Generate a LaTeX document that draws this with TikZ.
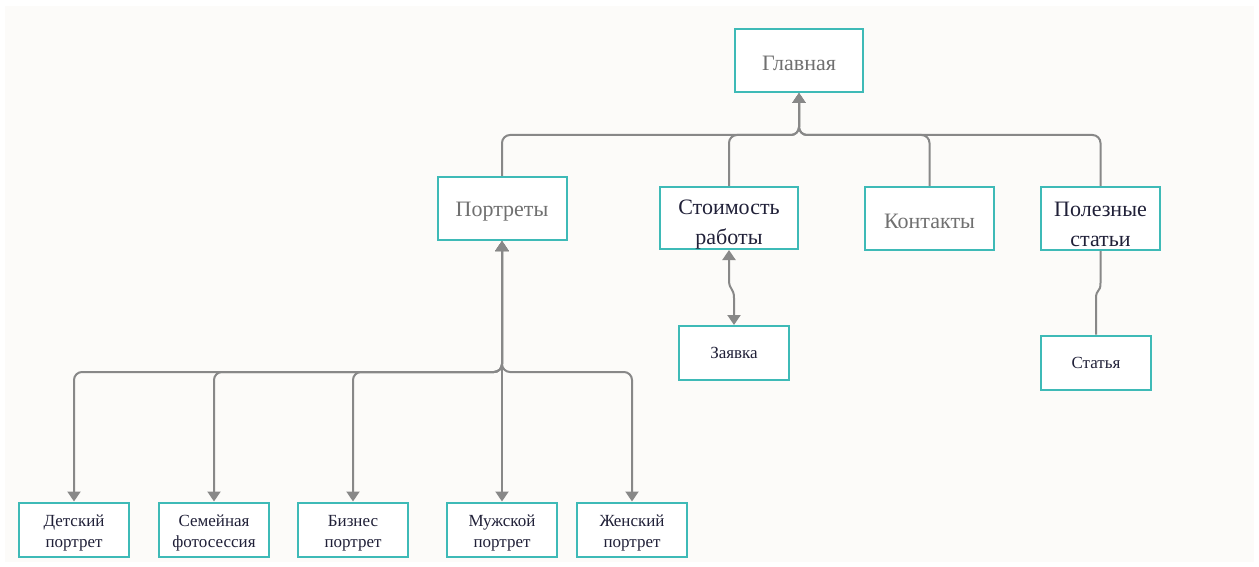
\documentclass[tikz,border=0pt]{standalone}
\usepackage{fontspec}
\setmainfont{Liberation Serif}
\newfontfamily\labelfont{Liberation Serif}
\usepackage{xcolor}
\usetikzlibrary{arrows.meta}

\definecolor{bgcol}{RGB}{252,251,249}
\definecolor{boxcol}{RGB}{62,186,183}
\definecolor{linecol}{RGB}{136,136,136}
\definecolor{greytext}{RGB}{112,112,112}
\definecolor{darktext}{RGB}{32,32,56}

\newcommand{\bigstrut}{\rule{0pt}{27pt}}
\newcommand{\smallstrut}{\rule{0pt}{19pt}}

\begin{document}
\begin{tikzpicture}[x=1pt, y=-1pt,
    block/.style={draw=boxcol, line width=2pt, fill=white, rectangle, align=center, inner sep=0pt},
    big/.style={font={\labelfont\fontsize{22}{30}\selectfont}},
    small/.style={font={\labelfont\fontsize{17}{21}\selectfont}, text=darktext, minimum width=110pt, minimum height=54pt},
    line/.style={draw=linecol, line width=2pt, rounded corners=8pt, >={Triangle[width=13pt,length=10pt]}}]
    \useasboundingbox (0, 0) rectangle (1259, 567);
    \fill[bgcol] (5, 6) rectangle (1254, 562);

    \node[block, big, text=greytext, minimum width=128pt, minimum height=63pt] at (799, 60.5) (root) {\rule{0pt}{20pt}Главная};
    \node[block, big, text=greytext, minimum width=129pt, minimum height=63pt] at (502, 208.5) (L1N1) {\rule{0pt}{20pt}Портреты};
    \node[block, big, text=darktext, minimum width=138pt, minimum height=62pt] at (729, 218) (L1N2) {\bigstrut Стоимость\\работы};
    \node[block, big, text=greytext, minimum width=129pt, minimum height=63pt] at (929.5, 218.5) (L1N3) {\rule{0pt}{20pt}Контакты};
    \node[block, big, text=darktext, minimum width=119pt, minimum height=63pt] at (1100.5, 218.5) (L1N4) {\bigstrut Полезные\\статьи};
    \node[block, small] at (74, 529.5) (L2N1) {\smallstrut Детский\\портрет};
    \node[block, small] at (214, 529.5) (L2N2) {\smallstrut Семейная\\фотосессия};
    \node[block, small] at (353, 529.5) (L2N3) {\smallstrut Бизнес\\портрет};
    \node[block, small] at (502, 529.5) (L2N4) {\smallstrut Мужской\\портрет};
    \node[block, small] at (632, 529.5) (L2N5) {\smallstrut Женский\\портрет};
    \node[block, small] at (734, 353) (L2N6) {Заявка};
    \node[block, small] at (1096, 362.5) (L2N7) {Статья};

    \draw[line, <-] (root.south) -- ++(0, 42) -| (L1N1.north);
    \draw[line, <-] (root.south) -- ++(0, 42) -| (L1N2.north);
    \draw[line, <-] (root.south) -- ++(0, 42) -| (L1N3.north);
    \draw[line, <-] (root.south) -- ++(0, 42) -| (L1N4.north);
    \draw[line, <->] (L1N1.south) -- ++(0, 131) -| (L2N1.north);
    \draw[line, <->] (L1N1.south) -- ++(0, 131) -| (L2N2.north);
    \draw[line, <->] (L1N1.south) -- ++(0, 131) -| (L2N3.north);
    \draw[line, <->] (L1N1.south) -- (L2N4.north);
    \draw[line, <->] (L1N1.south) -- ++(0, 131) -| (L2N5.north);
    \draw[line, sharp corners, <->] (L1N2.south) -- ++(0, 30) .. controls +(0, 10) and +(0, -10) .. ([yshift=27pt]L2N6.north) -- (L2N6.north);
    \draw[line, sharp corners] (L1N4.south) -- ++(0, 32) .. controls +(0, 10) and +(0, -10) .. ([yshift=36pt]L2N7.north) -- (L2N7.north);
\end{tikzpicture}
\end{document}
